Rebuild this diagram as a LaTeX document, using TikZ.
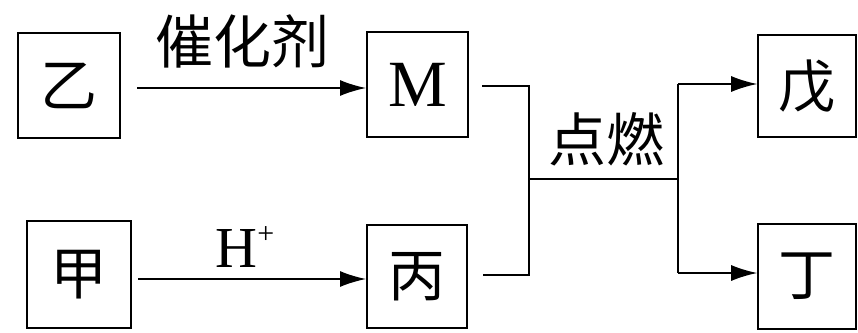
\documentclass[tikz,border=0pt]{standalone}
\usepackage{fontspec}
\setmainfont{Liberation Serif}
\newfontfamily\cjk{Noto Sans CJK SC}
\usetikzlibrary{arrows.meta}
\begin{document}
\begin{tikzpicture}[x=1pt,y=-1pt,
  box/.style={draw,line width=1.6pt,inner sep=0pt,font=\cjk\fontsize{57}{57}\selectfont},
  lab/.style={inner sep=0pt,font=\cjk\fontsize{58}{58}\selectfont},
  ln/.style={line width=1.6pt},
  arr/.style={line width=1.6pt,-{Latex[length=26pt,width=16pt]}}]
\useasboundingbox (0,0) rectangle (858,332);
\fill[white] (0,0) rectangle (858,332);
\node[box,minimum width=102pt,minimum height=105pt] (yi) at (69,85.5) {乙};
\node[box,minimum width=101pt,minimum height=105pt,font=\fontsize{66}{66}\selectfont] (M) at (417.5,84.5) {M};
\node[box,minimum width=98pt,minimum height=102pt] (wu) at (807,86) {戊};
\node[box,minimum width=104pt,minimum height=107pt] (jia) at (79,274.5) {甲};
\node[box,minimum width=100pt,minimum height=103pt] (bing) at (417,276.5) {丙};
\node[box,minimum width=98pt,minimum height=105pt] (ding) at (807,276.5) {丁};
% connectors
\coordinate (s1) at (137,88);
\coordinate (e1) at (366,88);
\coordinate (s2) at (138,279);
\coordinate (e2) at (366,279);
\draw[arr] (s1) -- (e1);
\draw[arr] (s2) -- (e2);
\node[lab] (cat) at (242,41) {催化剂};
\node[inner sep=0pt,font=\fontsize{58}{58}\selectfont] (H) at (245,247) {H\raisebox{0.42em}{\fontsize{30}{30}\selectfont +}};
\coordinate (m1) at (482,86);
\coordinate (b1) at (483,275);
\coordinate (j1) at (529,179);
\coordinate (j2) at (678,179);
\draw[ln] (m1) -| (j1);
\draw[ln] (b1) -| (j1);
\draw[ln] (j1) -- (j2);
\coordinate (t1) at (678,84);
\coordinate (t2) at (678,273);
\draw[ln] (t1) -- (t2);
\draw[arr] (t1) -- (t1 -| wu.west);
\draw[arr] (t2) -- (t2 -| ding.west);
\node[lab] (ign) at (606,139) {点燃};
\end{tikzpicture}
\end{document}
